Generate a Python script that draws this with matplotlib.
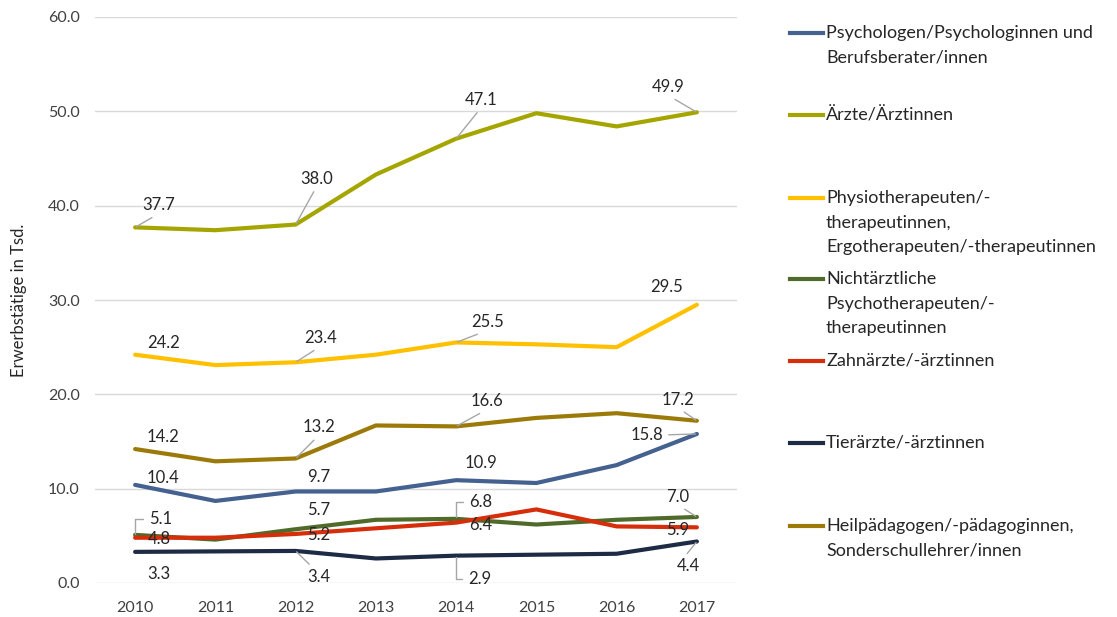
import matplotlib
matplotlib.use("Agg")
import matplotlib.pyplot as plt
from matplotlib.lines import Line2D

plt.rcParams['font.family'] = ['Lato', 'DejaVu Sans']

# ---------------- data ----------------
years = ["2010", "2011", "2012", "2013", "2014", "2015", "2016", "2017"]

psychologen = [10.4, 8.7, 9.7, 9.7, 10.9, 10.6, 12.5, 15.8]
aerzte = [37.7, 37.4, 38.0, 43.3, 47.1, 49.8, 48.4, 49.9]
physio = [24.2, 23.1, 23.4, 24.2, 25.5, 25.3, 25.0, 29.5]
nichtaerztl = [5.1, 4.6, 5.7, 6.7, 6.8, 6.2, 6.7, 7.0]
zahnaerzte = [4.8, 4.8, 5.2, 5.8, 6.4, 7.8, 6.0, 5.9]
tieraerzte = [3.3, 3.35, 3.4, 2.6, 2.9, 3.0, 3.1, 4.4]
heilpaed = [14.2, 12.9, 13.2, 16.7, 16.6, 17.5, 18.0, 17.2]

series_names = [
    "Psychologen/Psychologinnen und\nBerufsberater/innen",
    "Ärzte/Ärztinnen",
    "Physiotherapeuten/-\ntherapeutinnen,\nErgotherapeuten/-therapeutinnen",
    "Nichtärztliche\nPsychotherapeuten/-\ntherapeutinnen",
    "Zahnärzte/-ärztinnen",
    "Tierärzte/-ärztinnen",
    "Heilpädagogen/-pädagoginnen,\nSonderschullehrer/innen",
]
series_values = [psychologen, aerzte, physio, nichtaerztl, zahnaerzte, tieraerzte, heilpaed]
label_indices = [0, 2, 4, 7]

y_ticks = [0, 10, 20, 30, 40, 50, 60]
y_label = "Erwerbstätige in Tsd."

# ---------------- style ----------------
colors = ["#44618F", "#A5A500", "#FFC000", "#4F6B2A", "#D62E0A", "#1E2B44", "#9C7A0A"]
# label offsets in pixels (dx, dy) and leader style
label_style = [
    # psychologen
    [((28, 7), None), ((23, 14), None), ((25, 17), None), ((-50, -1), 'hline')],
    # aerzte
    [((24, 22), 'line'), ((21, 46), 'line'), ((25, 39), 'line'), ((-29, 25), 'line')],
    # physio
    [((28, 12), None), ((25, 24), 'line'), ((31, 20), 'line'), ((-30, 18), None)],
    # nichtaerztl
    [((26, 16), 'bracket'), ((23, 19), None), ((25, 17), 'bracket'), ((-19, 20), 'line')],
    # zahn
    [((24, -1), None), ((23, -1), None), ((25, -2), None), ((-19, -3), None)],
    # tier
    [((24, -22), None), ((23, -26), 'line_down'), ((24, -23), 'bracket'), ((-9, -25), 'line_down')],
    # heil
    [((28, 12), None), ((23, 31), 'line'), ((31, 25), 'line'), ((-19, 21), 'line')],
]
legend_first_y = [33, 115, 198, 279, 361, 443, 526]
legend_line_step = 24.7

W, H = 1117, 617
fig = plt.figure(figsize=(W / 100, H / 100), dpi=100)
ax = fig.add_axes([95 / W, (H - 583) / H, (737 - 95) / W, (583 - 17) / H])

x = list(range(len(years)))
leader_color = "#A6A6A6"
text_color = "#262626"

for vals, col in zip(series_values, colors):
    ax.plot(x, vals, color=col, lw=3.0, solid_capstyle='round', solid_joinstyle='round', zorder=3)

for vals, styles in zip(series_values, label_style):
    for idx, ((dx, dy), kind) in zip(label_indices, styles):
        txt = f"{vals[idx]:.1f}"
        arrow = None
        if kind == 'line':
            arrow = dict(arrowstyle='-', color=leader_color, lw=1.0, shrinkA=2, shrinkB=1,
                         relpos=(0.5, 0.0))
        elif kind == 'line_down':
            arrow = dict(arrowstyle='-', color=leader_color, lw=1.0, shrinkA=2, shrinkB=1,
                         relpos=(0.3, 1.0))
        elif kind == 'hline':
            arrow = dict(arrowstyle='-', color=leader_color, lw=1.0, shrinkA=2, shrinkB=1,
                         relpos=(1.0, 0.5))
        elif kind == 'bracket':
            arrow = dict(arrowstyle='-', color=leader_color, lw=1.0, shrinkA=3, shrinkB=1,
                         relpos=(0.0, 0.5),
                         connectionstyle='angle,angleA=0,angleB=90,rad=0')
        ax.annotate(txt, xy=(idx, vals[idx]), xytext=(dx, dy), textcoords='offset pixels',
                    ha='center', va='center', fontsize=12, color=text_color,
                    arrowprops=arrow, zorder=4)

ax.set_xlim(-0.5, len(years) - 0.5)
ax.set_ylim(y_ticks[0], y_ticks[-1])
ax.set_xticks(x)
ax.set_xticklabels(years)
ax.set_yticks(y_ticks)
ax.set_yticklabels([f"{t:.1f}" for t in y_ticks])
ax.grid(axis='y', color='#D9D9D9', lw=1.0, zorder=0)
ax.set_axisbelow(True)
for s in ax.spines.values():
    s.set_visible(False)
ax.tick_params(axis='both', length=0, labelsize=11.5, colors='#404040')
ax.tick_params(axis='y', pad=11)
ax.tick_params(axis='x', pad=13)
ax.set_ylabel(y_label, fontsize=12, color=text_color)
ax.yaxis.set_label_coords((27 - 95) / (737 - 95), 0.5)

# legend, drawn manually to match the uneven spacing
for name, col, y0 in zip(series_names, colors, legend_first_y):
    fy = (H - y0) / H
    fig.add_artist(Line2D([790 / W, 823 / W], [fy, fy], color=col, lw=3.0,
                          transform=fig.transFigure))
    for k, line in enumerate(name.split("\n")):
        fig.text(826 / W, (H - (y0 + k * legend_line_step)) / H, line,
                 ha='left', va='center', fontsize=13, color=text_color)

fig.savefig("out.png", dpi=100)
